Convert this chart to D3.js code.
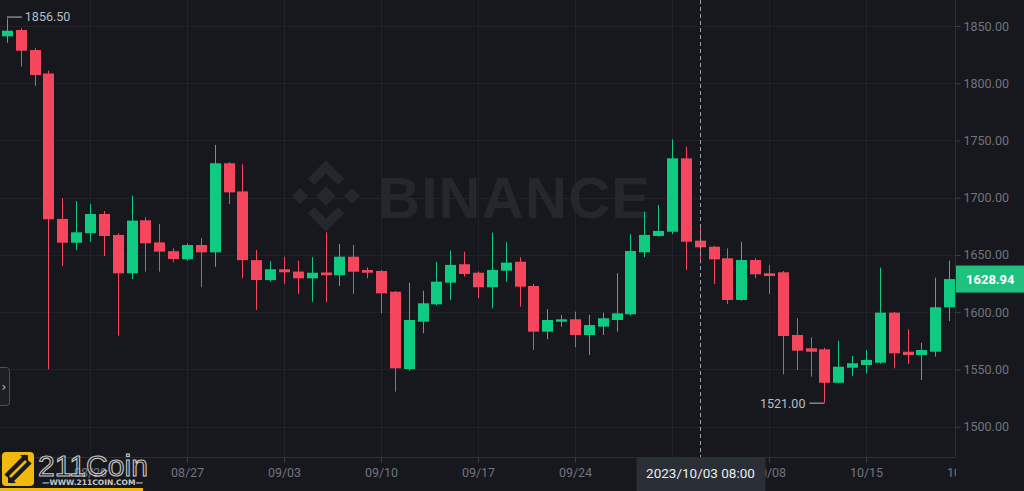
<!DOCTYPE html>
<html><head><meta charset="utf-8">
<script src="https://cdn.jsdelivr.net/npm/d3@7"></script>
<style>html,body{margin:0;padding:0;background:#17181d;overflow:hidden}svg{display:block}</style>
</head><body><svg id="c" width="1024" height="491"></svg>
<script>
// ---- data (ETH/USDT daily) ----
const dates = ["2023-08-14","2023-08-15","2023-08-16","2023-08-17","2023-08-18","2023-08-19","2023-08-20",
"2023-08-21","2023-08-22","2023-08-23","2023-08-24","2023-08-25","2023-08-26","2023-08-27",
"2023-08-28","2023-08-29","2023-08-30","2023-08-31","2023-09-01","2023-09-02","2023-09-03",
"2023-09-04","2023-09-05","2023-09-06","2023-09-07","2023-09-08","2023-09-09","2023-09-10",
"2023-09-11","2023-09-12","2023-09-13","2023-09-14","2023-09-15","2023-09-16","2023-09-17",
"2023-09-18","2023-09-19","2023-09-20","2023-09-21","2023-09-22","2023-09-23","2023-09-24",
"2023-09-25","2023-09-26","2023-09-27","2023-09-28","2023-09-29","2023-09-30","2023-10-01",
"2023-10-02","2023-10-03","2023-10-04","2023-10-05","2023-10-06","2023-10-07","2023-10-08",
"2023-10-09","2023-10-10","2023-10-11","2023-10-12","2023-10-13","2023-10-14","2023-10-15",
"2023-10-16","2023-10-17","2023-10-18","2023-10-19","2023-10-20","2023-10-21"];
const open  = [1841.0,1846.5,1829.0,1808.5,1681.5,1660.7,1669.0,1685.8,1667.5,1634.0,1680.3,1661.0,1653.3,1646.3,
1658.7,1652.3,1730.1,1705.5,1645.5,1628.1,1637.5,1635.5,1629.6,1634.7,1632.3,1648.5,1636.9,1636.0,
1617.9,1550.4,1591.7,1606.9,1625.8,1641.9,1634.5,1621.8,1636.3,1644.1,1622.9,1583.0,1591.7,1593.8,
1580.1,1587.4,1593.2,1598.2,1652.3,1666.6,1670.3,1734.4,1662.5,1657.2,1647.1,1610.7,1645.6,1634.0,
1634.9,1580.1,1568.5,1567.6,1538.4,1551.5,1553.9,1555.9,1599.6,1565.5,1562.6,1565.5,1604.3];
const high  = [1856.5,1848.0,1830.5,1811.0,1699.5,1697.1,1694.5,1688.4,1669.0,1701.8,1682.9,1677.1,1655.8,1660.2,
1664.6,1746.1,1731.0,1729.2,1654.4,1644.7,1648.5,1645.0,1648.0,1669.8,1659.6,1658.7,1639.2,1636.9,
1618.5,1625.8,1618.8,1644.1,1653.7,1652.9,1635.5,1669.5,1661.1,1648.0,1624.7,1602.6,1597.6,1600.5,
1597.6,1599.6,1634.0,1668.1,1687.8,1693.7,1751.0,1744.6,1673.3,1658.0,1655.8,1661.6,1647.1,1641.3,
1636.0,1594.7,1578.1,1569.0,1575.1,1561.8,1567.0,1638.9,1600.3,1585.1,1573.4,1630.2,1645.0];
const low   = [1835.4,1814.5,1797.6,1550.1,1640.4,1654.4,1661.6,1649.1,1579.5,1629.0,1635.4,1635.4,1643.6,1645.0,
1621.8,1639.8,1694.5,1629.6,1602.0,1626.7,1624.7,1615.9,1609.2,1608.7,1622.9,1615.9,1629.6,1599.1,
1530.6,1549.0,1581.6,1606.0,1610.7,1631.0,1612.2,1603.4,1626.7,1604.8,1567.0,1576.4,1587.4,1569.4,
1562.6,1580.1,1583.0,1597.0,1648.0,1666.0,1668.3,1636.9,1642.7,1624.7,1607.2,1610.0,1629.6,1615.9,
1545.8,1549.5,1543.7,1521.0,1538.0,1544.3,1546.6,1555.0,1551.0,1554.8,1540.8,1561.2,1592.3];
const close = [1845.9,1828.4,1807.2,1681.2,1660.7,1669.8,1685.8,1666.6,1634.0,1680.0,1660.2,1652.9,1646.5,1658.7,
1652.3,1730.1,1704.7,1645.5,1628.1,1637.5,1634.9,1629.6,1634.5,1632.3,1648.5,1635.4,1634.5,1616.5,
1551.0,1593.2,1607.8,1626.7,1641.3,1633.4,1621.8,1636.9,1643.3,1622.3,1583.0,1593.2,1593.8,1580.1,
1588.8,1594.7,1599.0,1653.5,1667.5,1671.0,1734.4,1661.6,1656.7,1646.2,1610.7,1645.6,1633.1,1631.6,
1579.2,1566.4,1565.5,1538.4,1552.4,1555.4,1558.3,1599.6,1564.1,1562.6,1567.0,1604.3,1628.94];
const priceTicks = [1500,1550,1600,1650,1700,1750,1800,1850];
const dateTicks = ["2023-08-20","2023-08-27","2023-09-03","2023-09-10","2023-09-17","2023-09-24","2023-10-01","2023-10-08","2023-10-15","2023-10-22"];
const dateTickLabels = ["08/20","08/27","09/03","09/10","09/17","09/24","10/01","10/08","10/15","10/22"];
const lastPrice = 1628.94;
const maxLabel = "1856.50", minLabel = "1521.00";
const crossDate = "2023-10-03", crossLabel = "2023/10/03 08:00";

// ---- layout ----
const W = 1024, H = 491, plotR = 955, plotB = 457;
const UP = "#0ecb81", DN = "#f6465d";
const svg = d3.select("#c");
svg.append("rect").attr("width", W).attr("height", H).attr("fill", "#17181d");

const x = d3.scaleUtc().domain([new Date("2023-08-27"), new Date("2023-10-15")]).range([187, 866]);
const y = d3.scaleLinear().domain([1500, 1850]).range([426.7, 26]);
const data = dates.map((d, i) => ({d: new Date(d), o: open[i], h: high[i], l: low[i], c: close[i]}));

svg.append("clipPath").attr("id", "clip").append("rect").attr("x", 0).attr("y", 0).attr("width", plotR).attr("height", plotB);

// grid
const grid = svg.append("g").attr("clip-path", "url(#clip)");
grid.selectAll("line.h").data(priceTicks).join("line")
  .attr("x1", 0).attr("x2", plotR).attr("y1", d => Math.round(y(d)) + 0.5).attr("y2", d => Math.round(y(d)) + 0.5)
  .attr("stroke", "#202228").attr("stroke-width", 1);
grid.selectAll("line.v").data(dateTicks).join("line")
  .attr("y1", 0).attr("y2", plotB).attr("x1", d => Math.round(x(new Date(d))) + 0.5).attr("x2", d => Math.round(x(new Date(d))) + 0.5)
  .attr("stroke", "#202228").attr("stroke-width", 1);

// watermark
const wm = svg.append("g").attr("fill", "#25272c");
const lg = wm.append("g").attr("transform", "translate(326,196) scale(1.08)");
const dia = (cx, cy, r) => `M${cx},${cy - r}L${cx + r},${cy}L${cx},${cy + r}L${cx - r},${cy}Z`;
lg.append("path").attr("d", dia(0, 0, 9));
lg.append("path").attr("d", dia(-24, 0, 7.5));
lg.append("path").attr("d", dia(24, 0, 7.5));
lg.append("path").attr("d", "M0,-33L17,-16L11,-10L0,-21L-11,-10L-17,-16Z");
lg.append("path").attr("d", "M0,33L17,16L11,10L0,21L-11,10L-17,16Z");
wm.append("text").attr("x", 378).attr("y", 218).attr("font-family", "Liberation Sans, Arial, sans-serif")
  .attr("font-weight", 700).attr("font-size", 58).attr("textLength", 272).attr("lengthAdjust", "spacing").text("BINANCE");

// candles
const cg = svg.append("g").attr("clip-path", "url(#clip)");
const bw = 11;
const cs = cg.selectAll("g.c").data(data).join("g");
cs.append("line")
  .attr("x1", d => Math.round(x(d.d)) + 0.5).attr("x2", d => Math.round(x(d.d)) + 0.5)
  .attr("y1", d => y(d.h)).attr("y2", d => y(d.l))
  .attr("stroke", d => d.c >= d.o ? UP : DN).attr("stroke-width", 1);
cs.append("rect")
  .attr("x", d => Math.round(x(d.d)) - (bw - 1) / 2)
  .attr("width", bw)
  .attr("y", d => y(Math.max(d.o, d.c)))
  .attr("height", d => Math.max(1.5, Math.abs(y(d.o) - y(d.c))))
  .attr("fill", d => d.c >= d.o ? UP : DN);

// max / min labels
const hiD = data[d3.maxIndex(data, d => d.h)], loD = data[d3.minIndex(data, d => d.l)];
const lblCol = "#b7bdc6";
svg.append("line").attr("x1", x(hiD.d)).attr("x2", x(hiD.d) + 15).attr("y1", y(hiD.h) - 1.5).attr("y2", y(hiD.h) - 1.5).attr("stroke", lblCol);
svg.append("text").attr("x", x(hiD.d) + 18).attr("y", y(hiD.h) + 2.5).attr("fill", lblCol)
  .attr("font-family", "Roboto, sans-serif").attr("font-size", 12.5).text(maxLabel);
svg.append("line").attr("x1", x(loD.d) - 15).attr("x2", x(loD.d)).attr("y1", y(loD.l) + 0.5).attr("y2", y(loD.l) + 0.5).attr("stroke", lblCol);
svg.append("text").attr("x", x(loD.d) - 19).attr("y", y(loD.l) + 5).attr("text-anchor", "end").attr("fill", lblCol)
  .attr("font-family", "Roboto, sans-serif").attr("font-size", 12.5).text(minLabel);

// crosshair
const cx = Math.round(x(new Date(crossDate))) + 0.5;
svg.append("line").attr("x1", cx).attr("x2", cx).attr("y1", 0).attr("y2", plotB)
  .attr("stroke", "#9aa0a8").attr("stroke-dasharray", "4,3").attr("stroke-width", 1);

// axes
const axCol = "#2b2e35", tickTxt = "#6f747d";
svg.append("line").attr("x1", plotR + 0.5).attr("x2", plotR + 0.5).attr("y1", 0).attr("y2", plotB + 0.5).attr("stroke", axCol);
svg.append("line").attr("x1", 0).attr("x2", plotR + 0.5).attr("y1", plotB + 0.5).attr("y2", plotB + 0.5).attr("stroke", axCol);

const yAxis = d3.axisRight(y).tickValues(priceTicks).tickSize(5).tickPadding(3).tickFormat(d3.format(".2f"));
const ya = svg.append("g").attr("transform", `translate(${plotR + 0.5},0)`).call(yAxis);
ya.select(".domain").remove();
ya.selectAll("line").attr("stroke", "#3a3e46");
ya.selectAll("text").attr("fill", tickTxt).attr("font-family", "Roboto, sans-serif").attr("font-size", 12.5);

const boxL = cx - 64, boxR = cx + 65;
const xAxis = d3.axisBottom(x).tickValues(dateTicks.map(d => new Date(d))).tickSize(5).tickPadding(6)
  .tickFormat((d, i) => dateTickLabels[i]);
const xa = svg.append("g").attr("transform", `translate(0,${plotB + 0.5})`).call(xAxis);
xa.select(".domain").remove();
xa.selectAll("line").attr("stroke", "#3a3e46");
xa.selectAll("text").attr("fill", tickTxt).attr("font-family", "Roboto, sans-serif").attr("font-size", 12.5);
// the label fully hidden under the crosshair tag is not drawn
xa.selectAll(".tick").filter(d => x(d) > boxL + 15 && x(d) < boxR - 15).select("text").remove();
// clip x labels to plot width
svg.append("rect").attr("x", plotR + 1).attr("y", plotB + 1).attr("width", W - plotR).attr("height", H - plotB).attr("fill", "#17181d");

// crosshair label
svg.append("rect").attr("x", boxL).attr("y", plotB + 1).attr("width", boxR - boxL).attr("height", H - plotB).attr("fill", "#2a2e35");
svg.append("text").attr("x", cx).attr("y", 478).attr("text-anchor", "middle").attr("fill", "#eaecef")
  .attr("font-family", "Roboto, sans-serif").attr("font-size", 13.5).text(crossLabel);

// last price tag
svg.append("rect").attr("x", plotR + 1).attr("y", y(lastPrice) - 13.5).attr("width", W - plotR).attr("height", 27).attr("fill", "#20c07f");
svg.append("text").attr("x", 966).attr("y", y(lastPrice) + 4.5).attr("fill", "#ffffff").attr("font-weight", 700)
  .attr("font-family", "Roboto, sans-serif").attr("font-size", 13).text(lastPrice.toFixed(2));

// left collapse button
svg.append("rect").attr("x", -4).attr("y", 367.5).attr("width", 13.5).attr("height", 38).attr("rx", 3)
  .attr("fill", "#1c1e23").attr("stroke", "#4a4f58");
svg.append("text").attr("x", 1.5).attr("y", 391).attr("fill", "#b7bdc6").attr("font-family", "DejaVu Sans, sans-serif").attr("font-size", 12).text("›");

// 211Coin overlay logo
const ov = svg.append("g");
ov.append("rect").attr("x", 2).attr("y", 452).attr("width", 32).attr("height", 34).attr("rx", 4).attr("fill", "#f0b90b");
ov.append("path").attr("d", "M6,476L26,456M10,482L30,462").attr("stroke", "#1a1a1a").attr("stroke-width", 4.5);
ov.append("path").attr("d", "M20,455L28,455L28,463Z M8,483L16,483L8,475Z").attr("fill", "#1a1a1a");
ov.append("text").attr("x", 38).attr("y", 476).attr("font-family", "Liberation Sans, Arial, sans-serif").attr("font-size", 30)
  .attr("fill", "none").attr("stroke", "#c8c8c8").attr("stroke-width", 1.1).attr("textLength", 110).attr("lengthAdjust", "spacingAndGlyphs").text("211Coin");
ov.append("text").attr("x", 42).attr("y", 485).attr("font-family", "DejaVu Sans, sans-serif").attr("font-size", 7.5).attr("font-weight", 700)
  .attr("fill", "#c8c8c8").attr("textLength", 101).attr("lengthAdjust", "spacingAndGlyphs").text("—WWW.211COIN.COM—");
ov.append("rect").attr("x", 0).attr("y", 488).attr("width", 143).attr("height", 3).attr("fill", "#f0b90b");
</script></body></html>
